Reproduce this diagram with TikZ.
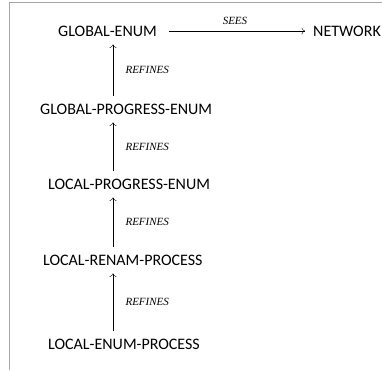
\documentclass[tikz,border=0pt]{standalone}
\usepackage{fontspec}
\usetikzlibrary{arrows.meta}
\setmainfont{Carlito}
\newfontfamily\relfont{Liberation Serif}
\begin{document}
\begin{tikzpicture}[
			x=1pt, y=-1pt,
			machine/.style={inner sep=0pt, anchor=west, font=\fontsize{16}{19}\selectfont},
			rel/.style={-{To[length=3.5pt, width=7pt]}, shorten >=8pt, shorten <=8pt},
			rellabel/.style={font=\relfont\itshape\fontsize{11}{13}\selectfont}
		]
		\useasboundingbox (0,0) rectangle (382,370);
		\draw[black!35, line width=0.8pt] (9,370) -- (9,2) -- (382,2);
		\coordinate (spine) at (113,0);
		\node[machine] (ge) at (58,31) {GLOBAL-ENUM};
		\node[machine] (net) at (313,31) {NETWORK};
		\node[machine] (gpe) at (40,109) {GLOBAL-PROGRESS-ENUM};
		\node[machine] (lpe) at (48,184) {LOCAL-PROGRESS-ENUM};
		\node[machine] (lrp) at (43,260) {LOCAL-RENAM-PROCESS};
		\node[machine] (lep) at (48,344) {LOCAL-ENUM-PROCESS};
		% SEES
		\draw[rel, shorten <=12pt] (ge) -- (net)
			node[rellabel, midway, above=3pt] {SEES};
		% REFINES chain
		\draw[rel] (gpe.north -| spine) -- (ge.south -| spine)
			node[rellabel, midway, right=9pt] {REFINES};
		\draw[rel] (lpe.north -| spine) -- (gpe.south -| spine)
			node[rellabel, midway, right=9pt] {REFINES};
		\draw[rel] (lrp.north -| spine) -- (lpe.south -| spine)
			node[rellabel, midway, right=9pt] {REFINES};
		\draw[rel] (lep.north -| spine) -- (lrp.south -| spine)
			node[rellabel, midway, right=9pt] {REFINES};
	\end{tikzpicture}
\end{document}
